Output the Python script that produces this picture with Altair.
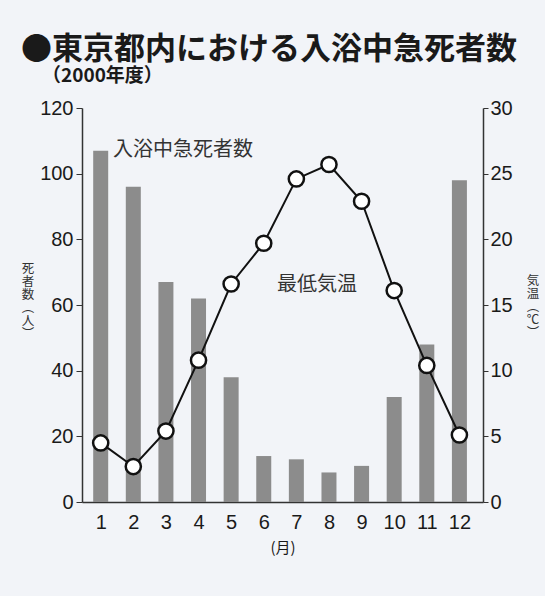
import altair as alt
import pandas as pd

# Monthly sudden bath deaths in Tokyo (FY2000) and mean minimum temperature
months = [1, 2, 3, 4, 5, 6, 7, 8, 9, 10, 11, 12]
deaths = [107, 96, 67, 62, 38, 14, 13, 9, 11, 32, 48, 98]
min_temp = [4.5, 2.7, 5.4, 10.8, 16.6, 19.7, 24.6, 25.7, 22.9, 16.1, 10.4, 5.1]
death_ticks = [0, 20, 40, 60, 80, 100, 120]
temp_ticks = [0, 5, 10, 15, 20, 25, 30]

df = pd.DataFrame({"month": months, "deaths": deaths, "temp": min_temp})

NUM_FONT = "Liberation Sans"
JP_FONT = "Noto Sans CJK JP"
INK = "#1a1a1a"
W, H = 401, 394

x_enc = alt.X(
    "month:Q",
    scale=alt.Scale(domain=[0.58, 12.57], nice=False, zero=False),
    axis=alt.Axis(
        values=months, format="d", ticks=False, grid=False,
        labelFont=NUM_FONT, labelFontSize=20, labelColor=INK, labelPadding=10,
        domainColor="#333333", domainWidth=1.5,
        title="(月)", titleFont=JP_FONT, titleFontSize=15, titleFontWeight="normal",
        titleColor=INK, titlePadding=8,
    ),
)

bars = alt.Chart(df).mark_bar(size=15, color="#8c8c8c").encode(
    x=x_enc,
    y=alt.Y(
        "deaths:Q",
        scale=alt.Scale(domain=[0, 120], nice=False),
        axis=alt.Axis(
            values=death_ticks, title=None, grid=False, tickSize=6,
            tickColor="#333333", domainColor="#333333", domainWidth=1.5,
            labelFont=NUM_FONT, labelFontSize=20, labelColor=INK, labelPadding=3,
        ),
    ),
)

temp_base = alt.Chart(df).encode(
    x=x_enc,
    y=alt.Y(
        "temp:Q",
        scale=alt.Scale(domain=[0, 30], nice=False),
        axis=alt.Axis(
            orient="right", values=temp_ticks, title=None, grid=False, tickSize=5,
            tickColor="#333333", domainColor="#333333", domainWidth=1.5,
            labelFont=NUM_FONT, labelFontSize=20, labelColor=INK, labelPadding=2,
        ),
    ),
)
temp_line = temp_base.mark_line(color="#111111", strokeWidth=2)
temp_pts = temp_base.mark_point(
    shape="circle", size=230, filled=True, fill="white",
    stroke="#111111", strokeWidth=2.5, opacity=1,
)
temp_layer = alt.layer(temp_line, temp_pts)

one = pd.DataFrame({"k": [0]})


def label(text, x, y, size, weight="normal", align="left", baseline="middle",
          line_height=None, font=JP_FONT, color=INK):
    kw = dict(text=text, font=font, fontSize=size, fontWeight=weight,
              align=align, baseline=baseline, color=color)
    if line_height is not None:
        kw["lineBreak"] = "\n"
        kw["lineHeight"] = line_height
    return alt.Chart(one).mark_text(**kw).encode(x=alt.value(x), y=alt.value(y))


title = label("●東京都内における入浴中急死者数", -61, -58, 31, weight="bold")
subtitle = label("（2000年度）", -40, -32, 19, weight="bold")
bath_label = label("入浴中急死者数", 31, 42, 20, color="#333333")
temp_label = label("最低気温", 195, 177, 20, color="#333333")
left_title = label("死\n者\n数\n︵\n人\n︶", -54, 155, 12.5, baseline="top",
                   align="center", line_height=13, color="#333333")
right_title = label("気\n温\n︵\n℃\n︶", 451, 167, 12.5, baseline="top",
                    align="center", line_height=13, color="#333333")

chart = (
    alt.layer(bars, temp_layer, title, subtitle, bath_label, temp_label,
              left_title, right_title)
    .resolve_scale(y="independent")
    .properties(
        width=W, height=H,
        autosize=alt.AutoSizeParams(type="none"),
        padding={"left": 82, "top": 108, "right": 62, "bottom": 94},
        background="#f2f4f8",
    )
    .configure_view(stroke=None)
)

chart.save("out.html", embed_options={"renderer": "svg", "actions": False})
